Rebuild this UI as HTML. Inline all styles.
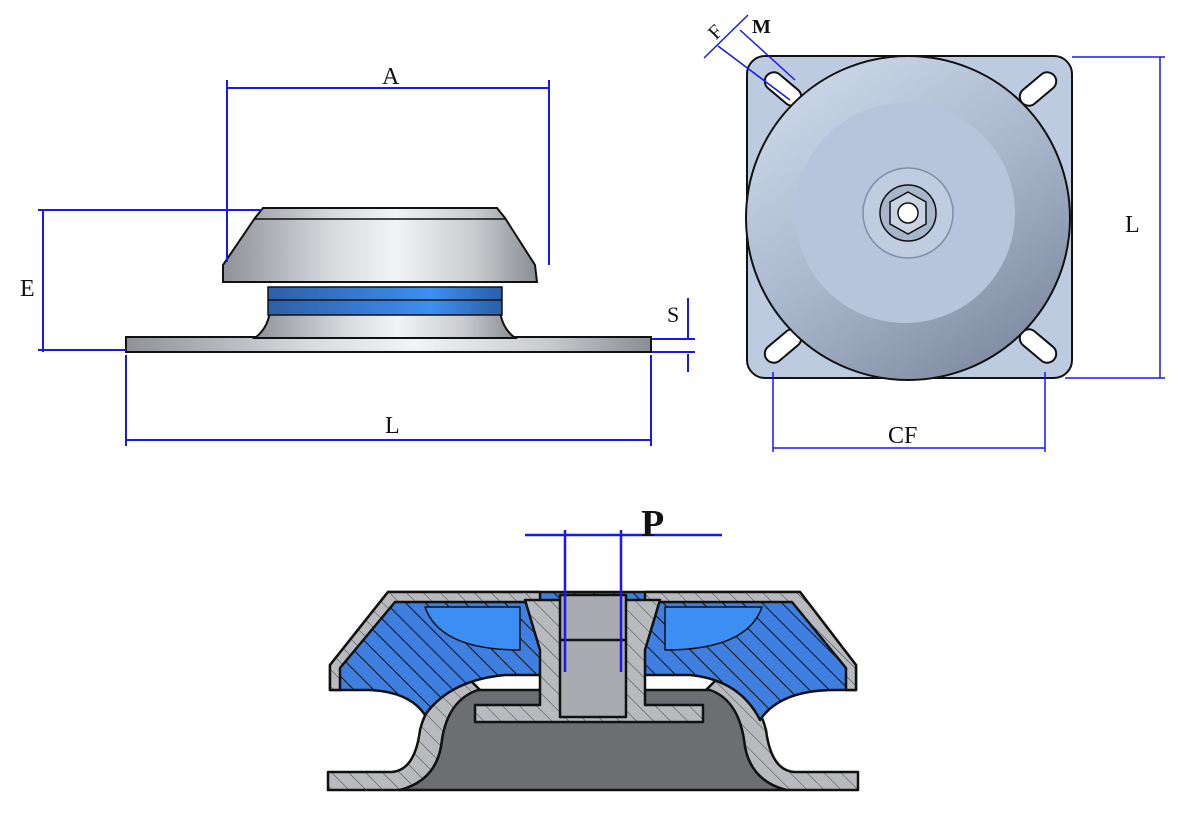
<!DOCTYPE html>
<html><head><meta charset="utf-8"><style>
html,body{margin:0;padding:0;background:#fff;}
svg{display:block;}
text{font-family:"Liberation Serif",serif;fill:#111;}
</style></head><body>
<svg width="1200" height="813" viewBox="0 0 1200 813" xmlns="http://www.w3.org/2000/svg">
<defs>
<linearGradient id="metal" x1="0" x2="1" y1="0" y2="0">
<stop offset="0" stop-color="#8e9196"/><stop offset="0.35" stop-color="#d8dade"/><stop offset="0.55" stop-color="#f2f3f5"/><stop offset="0.8" stop-color="#c9cbcf"/><stop offset="1" stop-color="#8a8d92"/></linearGradient>
<linearGradient id="blue" x1="0" x2="1"><stop offset="0" stop-color="#2e5fa8"/><stop offset="0.7" stop-color="#3d8ff0"/><stop offset="1" stop-color="#2a5ea8"/></linearGradient>
<linearGradient id="disc" x1="0.2" y1="0.1" x2="0.8" y2="0.95"><stop offset="0" stop-color="#c8d4e6"/><stop offset="0.5" stop-color="#a8b6cc"/><stop offset="1" stop-color="#7f8ba0"/></linearGradient>
<pattern id="hatch" width="14" height="14" patternUnits="userSpaceOnUse" patternTransform="rotate(-45)"><rect width="14" height="14" fill="#3f7fe0"/><line x1="0" y1="0" x2="0" y2="14" stroke="#111" stroke-width="2"/></pattern>
<pattern id="hatchg" width="12" height="12" patternUnits="userSpaceOnUse" patternTransform="rotate(-45)"><rect width="12" height="12" fill="#b8babe"/><line x1="0" y1="0" x2="0" y2="12" stroke="#444" stroke-width="1"/></pattern>
</defs>

<!-- SIDE VIEW -->
<rect x="126" y="337" width="525" height="15" fill="url(#metal)" stroke="#111" stroke-width="2"/>
<path d="M255,338 Q272,325 270,300 L270,288 L500,288 L500,300 Q498,325 515,338 Z" fill="url(#metal)" stroke="#111" stroke-width="2"/>
<rect x="268" y="287" width="234" height="28" fill="url(#blue)" stroke="#111" stroke-width="1.5"/>
<line x1="268" y1="300" x2="502" y2="300" stroke="#111" stroke-width="1.5"/>
<path d="M263,208 L497,208 L505,218 L535,265 L537,282 L223,282 L223,265 L255,218 Z" fill="url(#metal)" stroke="#111" stroke-width="2"/>
<line x1="255" y1="219" x2="505" y2="219" stroke="#111" stroke-width="1.5"/>

<g stroke="#1818f0" stroke-width="2" fill="none">
<line x1="227" y1="88" x2="549" y2="88"/><line x1="227" y1="80" x2="227" y2="262"/><line x1="549" y1="80" x2="549" y2="265"/>
<line x1="43" y1="210" x2="43" y2="352"/><line x1="38" y1="210" x2="262" y2="210"/><line x1="38" y1="350" x2="126" y2="350"/>
<line x1="126" y1="440" x2="651" y2="440"/><line x1="126" y1="355" x2="126" y2="446"/><line x1="651" y1="355" x2="651" y2="446"/>
<line x1="688" y1="298" x2="688" y2="338"/><line x1="688" y1="354" x2="688" y2="372"/><line x1="652" y1="339" x2="695" y2="339"/><line x1="652" y1="352" x2="695" y2="352"/>
</g>
<text x="382" y="84" font-size="24" font-family="Liberation Sans">A</text>
<text x="20" y="296" font-size="24">E</text>
<text x="385" y="433" font-size="24" font-family="Liberation Sans">L</text>
<text x="667" y="322" font-size="22">S</text>

<!-- TOP VIEW -->
<rect x="747" y="56" width="325" height="322" rx="18" fill="#bccbe0" stroke="#111" stroke-width="2"/>
<g fill="#fff" stroke="#111" stroke-width="2">
<rect x="762" y="80" width="42" height="18" rx="9" transform="rotate(40 783 89)"/>
<rect x="1017" y="80" width="42" height="18" rx="9" transform="rotate(-40 1038 89)"/>
<rect x="762" y="337" width="42" height="18" rx="9" transform="rotate(-40 783 346)"/>
<rect x="1017" y="337" width="42" height="18" rx="9" transform="rotate(40 1038 346)"/>
</g>
<circle cx="908" cy="218" r="162" fill="url(#disc)" stroke="#111" stroke-width="2"/>
<circle cx="905" cy="213" r="110" fill="#b6c5dc"/>
<circle cx="908" cy="213" r="45" fill="#c0cde0" stroke="#7f8ea6" stroke-width="1.5"/>
<circle cx="908" cy="213" r="28" fill="#a8b6cc" stroke="#111" stroke-width="1.5"/>
<polygon points="908,192 926,202 926,224 908,234 890,224 890,202" fill="#c9d3e2" stroke="#111" stroke-width="1.5"/>
<circle cx="908" cy="213" r="10" fill="#fff" stroke="#111" stroke-width="1.5"/>
<g stroke="#1818f0" stroke-width="1.5" fill="none">
<line x1="1072" y1="57" x2="1165" y2="57"/><line x1="1065" y1="378" x2="1165" y2="378"/><line x1="1160" y1="57" x2="1160" y2="378"/>
<line x1="773" y1="372" x2="773" y2="452"/><line x1="1045" y1="372" x2="1045" y2="452"/><line x1="773" y1="448" x2="1045" y2="448"/>
<line x1="704" y1="58" x2="748" y2="15"/><line x1="718" y1="46" x2="790" y2="100"/><line x1="740" y1="30" x2="795" y2="80"/>
</g>
<text x="1125" y="232" font-size="24" font-family="Liberation Sans">L</text>
<text x="888" y="443" font-size="24" font-family="Liberation Sans">CF</text>
<text x="752" y="33" font-size="20" font-weight="bold">M</text>
<text x="710" y="38" font-size="20" transform="rotate(-45 716 32)">F</text>

<!-- SECTION VIEW -->
<g stroke="#111" stroke-width="2.5" stroke-linejoin="round">
<path d="M328,790 L328,772 L392,772 Q415,770 420,730 Q430,690 470,680 L480,690 Q448,700 442,740 Q438,780 400,790 Z" fill="url(#hatchg)"/>
<path d="M858,790 L858,772 L794,772 Q771,770 766,730 Q756,690 716,680 L706,690 Q738,700 744,740 Q748,780 786,790 Z" fill="url(#hatchg)"/>
<path d="M400,790 Q438,780 442,740 Q448,700 478,690 L710,690 Q738,700 744,740 Q748,780 786,790 Z" fill="#6d6e72"/>
<path d="M330,690 L330,665 L388,592 L800,592 L856,665 L856,690 L835,690 Q780,690 760,720 Q740,680 690,675 L505,675 Q450,680 425,715 Q410,692 370,690 Z" fill="url(#hatch)"/>
<path d="M330,690 L330,665 L388,592 L540,592 L540,602 L395,602 L340,668 L340,690 Z" fill="url(#hatchg)"/>
<path d="M856,690 L856,665 L800,592 L645,592 L645,602 L792,602 L846,668 L846,690 Z" fill="url(#hatchg)"/>
<path d="M425,607 Q440,650 520,650 L520,607 Z" fill="#3c8ef2" stroke-width="1.5"/>
<path d="M762,607 Q747,650 665,650 L665,607 Z" fill="#3c8ef2" stroke-width="1.5"/>
<path d="M475,705 L475,722 L703,722 L703,705 L645,705 L645,650 L660,600 L525,600 L540,650 L540,705 Z" fill="url(#hatchg)"/>
<rect x="560" y="595" width="66" height="122" fill="#a9abb0"/>
<line x1="560" y1="640" x2="626" y2="640"/>
</g>
<g stroke="#1818f0" stroke-width="2.5" fill="none">
<line x1="525" y1="535" x2="722" y2="535"/>
<line x1="565" y1="530" x2="565" y2="672"/><line x1="621" y1="530" x2="621" y2="672"/>
</g>
<text x="641" y="536" font-size="38" font-weight="bold">P</text>
</svg>
</body></html>
